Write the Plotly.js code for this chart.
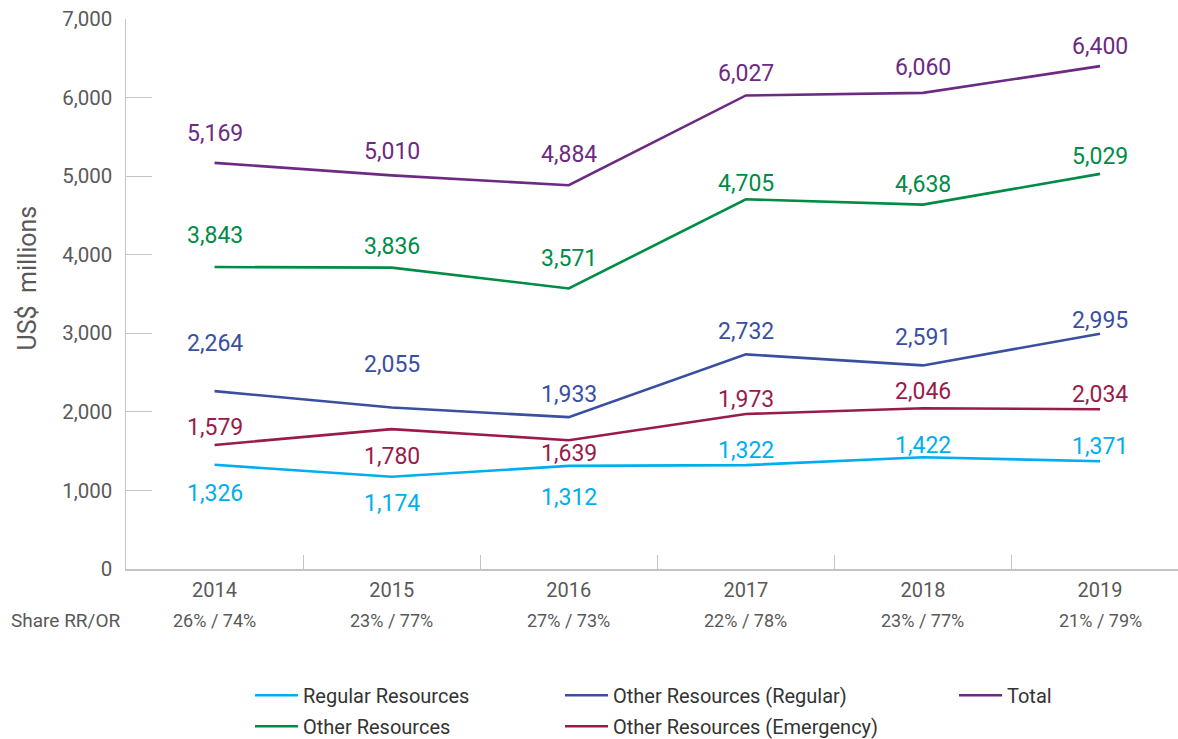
<!DOCTYPE html>
<html>
<head>
<meta charset="utf-8">
<script src="https://cdn.plot.ly/plotly-3.0.1.min.js"></script>
<style>
html,body{margin:0;padding:0;background:#fff;}
#chart{width:1178px;height:739px;}
</style>
</head>
<body>
<div id="chart"></div>
<script>
// ---- data ----
var years = ['2014', '2015', '2016', '2017', '2018', '2019'];
var shareRROR = ['26% / 74%', '23% / 77%', '27% / 73%', '22% / 78%', '23% / 77%', '21% / 79%'];

var regularResources = [1326, 1174, 1312, 1322, 1422, 1371];
var otherResourcesRegular = [2264, 2055, 1933, 2732, 2591, 2995];
var total = [5169, 5010, 4884, 6027, 6060, 6400];
var otherResources = [3843, 3836, 3571, 4705, 4638, 5029];
var otherResourcesEmergency = [1579, 1780, 1639, 1973, 2046, 2034];

// ---- label placement (pixel nudge of each value label; + is above the line, - below) ----
var nudgeRegular = [-29, -27, -32, 15, 12, 15];
var nudgeOtherRegular = [48, 43, 23, 23, 28, 13];
var nudgeTotal = [29, 24, 31, 22, 25, 20];
var nudgeOther = [32, 21, 30, 16, 20, 17];
var nudgeEmergency = [17, -27, -13, 14, 17, 15];

// ---- styles ----
var C = {
  regular: '#00aeef',
  otherRegular: '#3a4fa0',
  total: '#6c2a83',
  other: '#008c47',
  emergency: '#9a1b4b'
};
var FONT = 'Roboto, "Liberation Sans", Arial, sans-serif';
var GREY = '#595959';
var AXIS = '#c4c4c4';

var series = [
  {name: 'Regular Resources', y: regularResources, color: C.regular, legend: 'legend', nudge: nudgeRegular},
  {name: 'Other Resources (Regular)', y: otherResourcesRegular, color: C.otherRegular, legend: 'legend2', nudge: nudgeOtherRegular},
  {name: 'Total', y: total, color: C.total, legend: 'legend3', nudge: nudgeTotal},
  {name: 'Other Resources', y: otherResources, color: C.other, legend: 'legend', nudge: nudgeOther},
  {name: 'Other Resources (Emergency)', y: otherResourcesEmergency, color: C.emergency, legend: 'legend2', nudge: nudgeEmergency}
];

var traces = series.map(function (s, k) {
  return {
    type: 'scatter',
    mode: 'lines',
    x: years,
    y: s.y,
    name: s.name,
    legend: s.legend,
    legendgroup: 'g' + k,
    line: {color: s.color, width: 2.6},
    hoverinfo: 'x+y+name'
  };
});

var annotations = [];
series.forEach(function (s) {
  s.y.forEach(function (v, i) {
    annotations.push({
      x: i, y: v, xref: 'x', yref: 'y',
      text: v.toLocaleString('en-US'),
      showarrow: false,
      xanchor: 'center', yanchor: 'middle',
      yshift: s.nudge[i],
      font: {family: FONT, size: 23, color: s.color}
    });
  });
});

shareRROR.forEach(function (t, i) {
  annotations.push({
    x: i, y: 0, xref: 'x', yref: 'paper',
    text: t, showarrow: false,
    xanchor: 'center', yanchor: 'middle', yshift: -51,
    font: {family: FONT, size: 18, color: GREY}
  });
});
annotations.push({
  x: -0.1112, y: 0, xref: 'paper', yref: 'paper',
  text: 'Share RR/OR', showarrow: false,
  xanchor: 'left', yanchor: 'middle', yshift: -51,
  font: {family: FONT, size: 19, color: GREY}
});
// y-axis title
annotations.push({
  x: -0.0932, y: 0.53, xref: 'paper', yref: 'paper',
  text: 'US$  millions', showarrow: false, textangle: -90,
  xanchor: 'center', yanchor: 'middle',
  font: {family: FONT, size: 25, color: GREY}
});

var legendBase = {
  orientation: 'v',
  yanchor: 'top', xanchor: 'left',
  y: -0.194,
  font: {family: FONT, size: 20, color: '#333333'},
  bgcolor: 'rgba(0,0,0,0)',
  itemwidth: 43,
  tracegroupgap: 2
};

var layout = {
  width: 1178, height: 739,
  margin: {l: 126, r: 0, t: 19, b: 170, autoexpand: false},
  paper_bgcolor: '#ffffff',
  plot_bgcolor: '#ffffff',
  font: {family: FONT, color: GREY},
  showlegend: true,
  xaxis: {
    type: 'category',
    range: [-0.5, 5.44],
    tickson: 'boundaries',
    ticks: 'inside', ticklen: 14, tickcolor: AXIS, tickwidth: 1,
    showline: true, linecolor: AXIS, linewidth: 1.5,
    showgrid: false, zeroline: false,
    tickfont: {family: FONT, size: 20, color: GREY},
    ticklabelstandoff: 2,
    automargin: false,
    fixedrange: true
  },
  yaxis: {
    range: [0, 7000],
    tickvals: [0, 1000, 2000, 3000, 4000, 5000, 6000, 7000],
    ticktext: ['0', '1,000', '2,000', '3,000', '4,000', '5,000', '6,000', '7,000'],
    ticks: 'inside', ticklen: 26, tickcolor: AXIS, tickwidth: 1,
    showline: true, linecolor: AXIS, linewidth: 1.5,
    showgrid: false, zeroline: false,
    tickfont: {family: FONT, size: 20.5, color: GREY},
    ticklabelstandoff: 8,
    automargin: false,
    fixedrange: true
  },
  legend: Object.assign({}, legendBase, {x: (250 - 126) / 1052}),
  legend2: Object.assign({}, legendBase, {x: (560 - 126) / 1052}),
  legend3: Object.assign({}, legendBase, {x: (954 - 126) / 1052}),
  annotations: annotations
};

Plotly.newPlot('chart', traces, layout, {displayModeBar: false, staticPlot: true});
</script>
</body>
</html>
